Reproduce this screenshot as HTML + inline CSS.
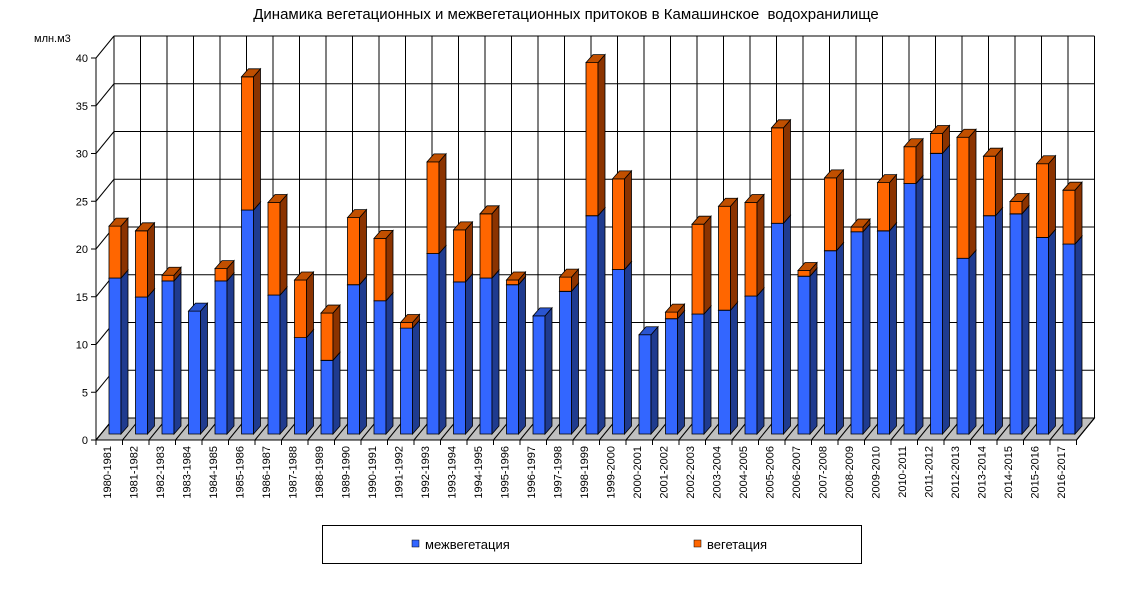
<!DOCTYPE html><html><head><meta charset="utf-8"><style>body{margin:0;background:#fff}svg{display:block;font-family:"Liberation Sans",sans-serif}</style></head><body>
<svg id="s" width="1126" height="590" viewBox="0 0 1126 590" xmlns="http://www.w3.org/2000/svg">
<text x="566" y="19" font-size="15" text-anchor="middle">Динамика вегетационных и межвегетационных притоков в Камашинское&#160; водохранилище</text>
<text x="34" y="42" font-size="11">млн.м3</text>
<rect x="322.5" y="525.5" width="539" height="38" fill="#fff" stroke="#000"/>
<rect x="412" y="540" width="7" height="7" fill="#3366FF" stroke="#000" stroke-width="0.5"/>
<text x="425" y="549" font-size="13">межвегетация</text>
<rect x="694" y="540" width="7" height="7" fill="#FF6600" stroke="#000" stroke-width="0.5"/>
<text x="707" y="549" font-size="13">вегетация</text>
</svg>
<script>
var s=document.getElementById('s'),h='';
var X0=96,Y0=440,U=9.55,DX=18,DY=22,SP=26.5,N=37,R=X0+N*SP;
function L(a,b,c,d,w){h+='<line x1="'+a+'" y1="'+b+'" x2="'+c+'" y2="'+d+'" stroke="#000" stroke-width="'+(w||1)+'"/>';}
function P(p,f){h+='<polygon points="'+p+'" fill="'+f+'" stroke="#000" stroke-width="0.8"/>';}
P((X0)+','+Y0+' '+(X0+DX)+','+(Y0-DY)+' '+(R+DX)+','+(Y0-DY)+' '+R+','+Y0,'#C0C0C0');
for(var i=0;i<=8;i++){var y=Y0-DY-i*5*U;L(X0+DX,y,R+DX,y);L(X0,Y0-i*5*U,X0+DX,y);L(X0-5,Y0-i*5*U,X0,Y0-i*5*U);
h+='<text x="'+(X0-8)+'" y="'+(Y0-i*5*U+4)+'" font-size="11" text-anchor="end">'+(i*5)+'</text>';}
for(var k=0;k<=N;k++){var x=X0+DX+k*SP;L(x,Y0-DY-40*U,x,Y0-DY);L(X0+k*SP,Y0,x,Y0-DY);L(X0+k*SP,Y0,X0+k*SP,Y0+5);}
L(X0,Y0,X0,Y0-40*U);L(X0,Y0,R,Y0);L(R,Y0,R+DX,Y0-DY);
var b=[16.5,14.5,16.2,13,16.2,23.7,14.7,10.2,7.8,15.8,14.1,11.2,19.1,16.1,16.5,15.8,12.5,15.1,23.1,17.4,10.5,12.2,12.7,13.1,14.6,22.3,16.7,19.4,21.4,21.5,26.5,29.7,18.6,23.1,23.3,20.8,20.1];
var t=[22,21.5,16.8,13,17.5,37.8,24.5,16.3,12.8,22.9,20.7,11.8,28.8,21.6,23.3,16.3,12.5,16.6,39.3,27,10.5,12.9,22.2,24.1,24.5,32.4,17.3,27.1,21.9,26.6,30.4,31.8,31.4,29.4,24.6,28.6,25.8];
var bx=7,by=8,w=12,base=434,BU=9.45;
function bar(x,y1,y2,c){
P(x+','+y2+' '+(x+w)+','+y2+' '+(x+w)+','+y1+' '+x+','+y1,c[0]);
P((x+w)+','+y2+' '+(x+w+bx)+','+(y2-by)+' '+(x+w+bx)+','+(y1-by)+' '+(x+w)+','+y1,c[1]);
P(x+','+y2+' '+(x+bx)+','+(y2-by)+' '+(x+w+bx)+','+(y2-by)+' '+(x+w)+','+y2,c[2]);}
for(var k=0;k<N;k++){var x=109+k*SP;var yb=base-b[k]*BU,yt=base-t[k]*BU;
bar(x,base,yb,['#3366FF','#1F3B8F','#2A55D0']);if(t[k]-b[k]>0.05)bar(x,yb,yt,['#FF6600','#8B3300','#C04F00']);
var lx=X0+k*SP+15;h+='<text transform="translate('+(lx)+',446) rotate(-90)" font-size="11" text-anchor="end">'+(1980+k)+'-'+(1981+k)+'</text>';}
s.insertAdjacentHTML('beforeend',h);
</script></body></html>
